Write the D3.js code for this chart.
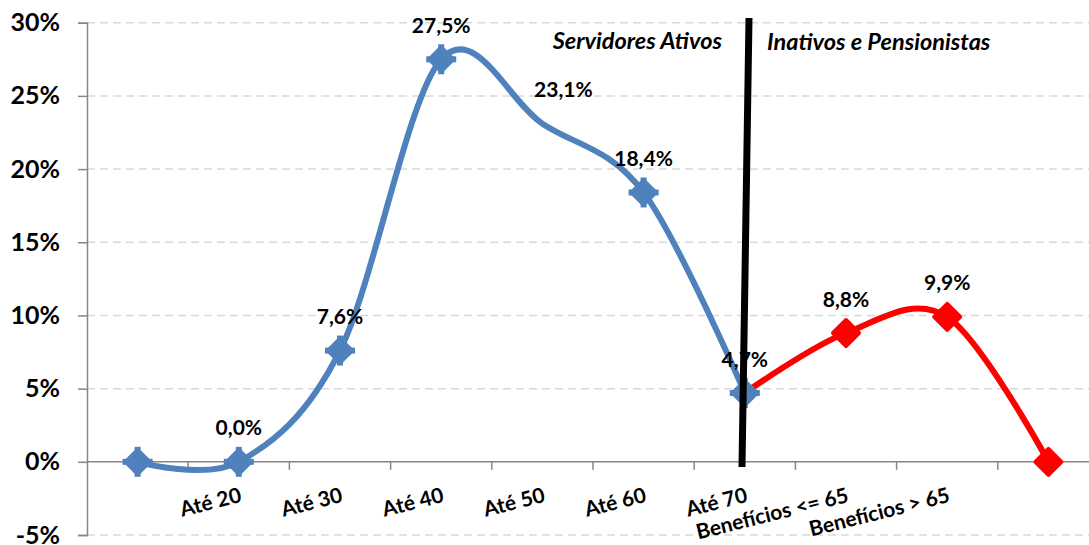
<!DOCTYPE html>
<html>
<head>
    <meta charset="utf-8">
    <title>Distribuição por faixa etária</title>
    <script src="https://d3js.org/d3.v7.min.js"></script>
    <style>
        body { margin: 0; background: white; }
        svg { display: block; font-family: Lato, "Open Sans", sans-serif; font-weight: bold; }
    </style>
</head>
<body>
    <svg id="chart"></svg>
    <script>
        // categories ("" = no label on that slot)
        const categories = ["", "Até 20", "Até 30", "Até 40", "Até 50", "Até 60", "Até 70",
                            "Benefícios <= 65", "Benefícios > 65", " "];
        const ativos = [0, 0.0, 7.6, 27.5, 23.1, 18.4, 4.7, null, null, null];
        const inativos = [null, null, null, null, null, null, 4.7, 8.8, 9.9, 0];
        const yTicks = [-5, 0, 5, 10, 15, 20, 25, 30];
        const ativosLabelled = ["Até 20", "Até 30", "Até 40", "Até 50", "Até 60", "Até 70"];
        const ativosNoMarker = ["Até 50"];
        const inativosLabelled = ["Benefícios <= 65", "Benefícios > 65"];
        const inativosMarked = ["Benefícios <= 65", "Benefícios > 65", " "];

        const width = 1089, height = 545;
        const blue = "#4f81bd", red = "#ff0000", axisGray = "#868686";

        const svg = d3.select("#chart").attr("width", width).attr("height", height);

        const x = d3.scaleBand().domain(categories).range([87, 1099]).padding(0);
        const y = d3.scaleLinear().domain([-5, 30]).range([535, 22.7]);
        const cx = c => x(c) + x.bandwidth() / 2;
        const fmt = v => d3.format(".1f")(v).replace(".", ",") + "%";

        // gridlines
        svg.append("g").selectAll("line")
            .data(yTicks.filter(d => d !== 0))
            .join("line")
            .attr("x1", 87).attr("x2", width)
            .attr("y1", d => y(d)).attr("y2", d => y(d))
            .attr("stroke", "#d9d9d9")
            .attr("stroke-width", 1.5)
            .attr("stroke-dasharray", "8,5");

        // y axis
        const yAxis = svg.append("g")
            .attr("transform", "translate(87,0)")
            .call(d3.axisLeft(y).tickValues(yTicks).tickFormat(d => d + "%").tickSize(9).tickPadding(18));
        yAxis.select(".domain").attr("stroke", axisGray).attr("stroke-width", 1.5);
        yAxis.selectAll(".tick line").attr("stroke", axisGray).attr("stroke-width", 1.5);
        yAxis.selectAll(".tick text")
            .attr("font-family", "Lato, sans-serif")
            .attr("font-weight", "bold")
            .attr("font-size", 25)
            .attr("fill", "black");

        // x axis at 0
        svg.append("line")
            .attr("x1", 87).attr("x2", width)
            .attr("y1", y(0)).attr("y2", y(0))
            .attr("stroke", axisGray).attr("stroke-width", 1.5);
        svg.append("g").selectAll("line")
            .data(categories.slice(1))
            .join("line")
            .attr("x1", d => x(d)).attr("x2", d => x(d))
            .attr("y1", y(0)).attr("y2", y(0) + 8)
            .attr("stroke", axisGray).attr("stroke-width", 1.5);

        svg.append("g").selectAll("text")
            .data(categories.filter(c => c.trim() !== ""))
            .join("text")
            .attr("transform", d => `translate(${cx(d)},487) rotate(-14)`)
            .attr("text-anchor", "end")
            .attr("dy", "0.72em")
            .attr("font-size", 21)
            .text(d => d);

        // series lines
        const line = d3.line()
            .defined(d => d[1] !== null)
            .x(d => cx(d[0]))
            .y(d => y(d[1]))
            .curve(d3.curveCardinal.tension(0));

        const ativosPts = categories.map((c, i) => [c, ativos[i]]);
        const inativosPts = categories.map((c, i) => [c, inativos[i]]);

        svg.append("path")
            .attr("d", line(inativosPts))
            .attr("fill", "none").attr("stroke", red).attr("stroke-width", 6);
        svg.append("path")
            .attr("d", line(ativosPts))
            .attr("fill", "none").attr("stroke", blue).attr("stroke-width", 6);

        const diamond = r => `M0,${-r}L${r},0L0,${r}L${-r},0Z`;

        // blue markers: diamond with a small cross
        const bm = svg.append("g").selectAll("g")
            .data(ativosPts.filter(d => d[1] !== null && !ativosNoMarker.includes(d[0])))
            .join("g")
            .attr("transform", d => `translate(${cx(d[0])},${y(d[1])})`);
        bm.append("path")
            .attr("d", diamond(12))
            .attr("fill", blue).attr("stroke", blue)
            .attr("stroke-width", 4).attr("stroke-linejoin", "round");
        bm.append("rect").attr("x", -15).attr("y", -3).attr("width", 30).attr("height", 6).attr("fill", blue);
        bm.append("rect").attr("x", -3).attr("y", -15).attr("width", 6).attr("height", 30).attr("fill", blue);

        svg.append("g").selectAll("path")
            .data(inativosPts.filter(d => inativosMarked.includes(d[0])))
            .join("path")
            .attr("transform", d => `translate(${cx(d[0])},${y(d[1])})`)
            .attr("d", diamond(13))
            .attr("fill", red).attr("stroke", red)
            .attr("stroke-width", 4).attr("stroke-linejoin", "round");

        // data labels
        const labels = ativosPts.filter(d => ativosLabelled.includes(d[0]))
            .concat(inativosPts.filter(d => inativosLabelled.includes(d[0])));
        svg.append("g").selectAll("text")
            .data(labels)
            .join("text")
            .attr("x", d => cx(d[0]) + (d[0] === "Até 50" ? 21 : 0))
            .attr("y", d => y(d[1]) - 34)
            .attr("dy", "0.36em")
            .attr("text-anchor", "middle")
            .attr("font-size", 21)
            .text(d => fmt(d[1]));

        // divider between groups
        svg.append("line")
            .attr("x1", 749).attr("y1", 18)
            .attr("x2", 742).attr("y2", 467)
            .attr("stroke", "black").attr("stroke-width", 7);

        svg.append("text")
            .attr("x", 722).attr("y", 49)
            .attr("text-anchor", "end")
            .attr("font-style", "italic")
            .attr("font-size", 23.5)
            .text("Servidores Ativos");

        svg.append("text")
            .attr("x", 767).attr("y", 50)
            .attr("font-style", "italic")
            .attr("font-size", 23.5)
            .text("Inativos e Pensionistas");
    </script>
</body>
</html>
